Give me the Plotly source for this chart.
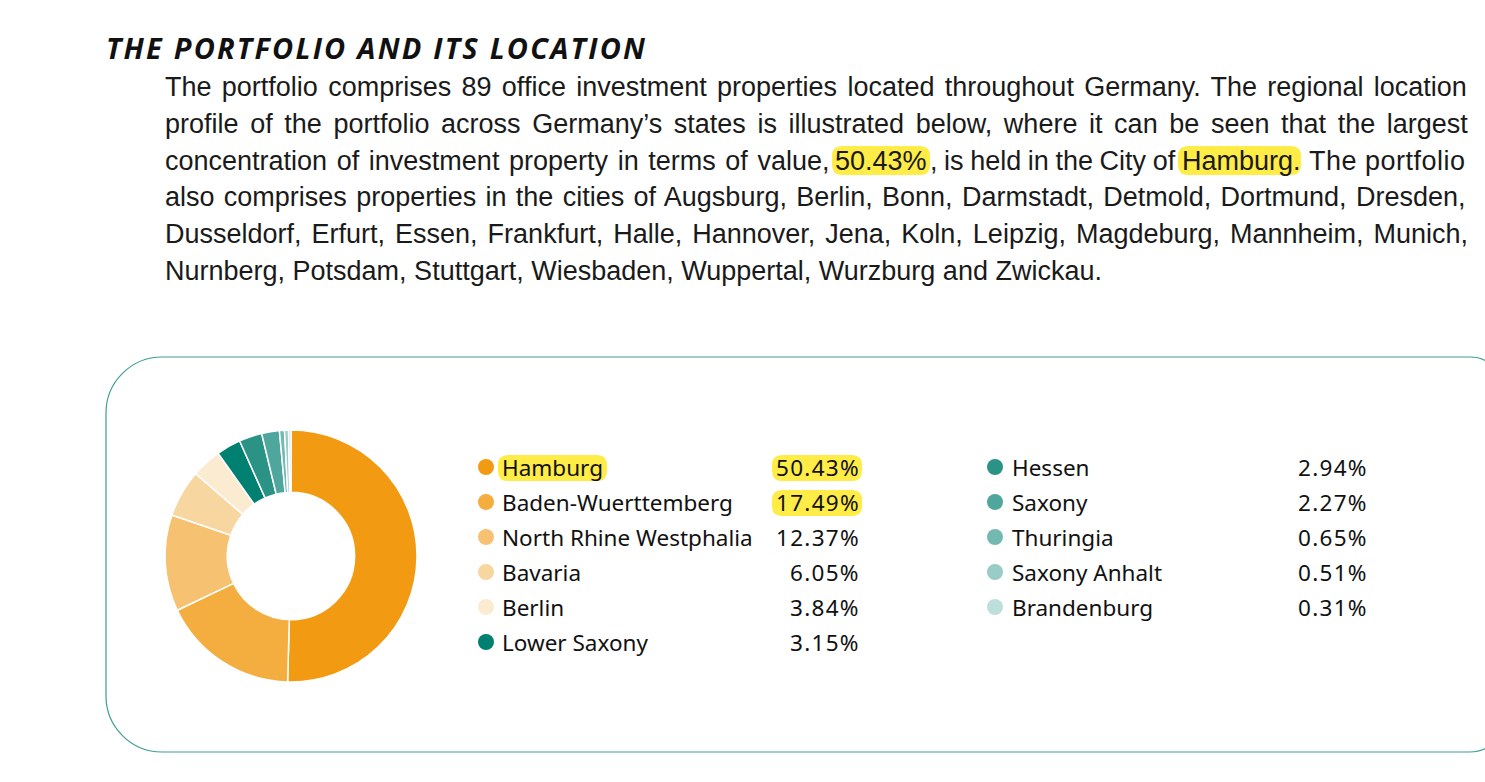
import plotly.graph_objects as go

W, H = 1485, 782

# ---------------- data ----------------
states = ["Hamburg", "Baden-Wuerttemberg", "North Rhine Westphalia", "Bavaria", "Berlin",
          "Lower Saxony", "Hessen", "Saxony", "Thuringia", "Saxony Anhalt", "Brandenburg"]
shares = [50.43, 17.49, 12.37, 6.05, 3.84, 3.15, 2.94, 2.27, 0.65, 0.51, 0.31]
colors = ["#F29A12", "#F4AD3F", "#F6C171", "#F8D6A0", "#FBEBD1",
          "#008070", "#2A9385", "#4EA69C", "#74B9B1", "#98CCC6", "#BCDFDB"]

title = "THE PORTFOLIO AND ITS LOCATION"
para_lines = [
    "The portfolio comprises 89 office investment properties located throughout Germany. The regional location",
    "profile of the portfolio across Germany\u2019s states is illustrated below, where it can be seen that the largest",
    None,
    "also comprises properties in the cities of Augsburg, Berlin, Bonn, Darmstadt, Detmold, Dortmund, Dresden,",
    "Dusseldorf, Erfurt, Essen, Frankfurt, Halle, Hannover, Jena, Koln, Leipzig, Magdeburg, Mannheim, Munich,",
    "Nurnberg, Potsdam, Stuttgart, Wiesbaden, Wuppertal, Wurzburg and Zwickau.",
]
line3_parts = ["concentration of investment property in terms of value,", "50.43%", ", is held in the City of",
               "Hamburg.", "The portfolio"]

# ---------------- styling ----------------
YELLOW = "#FFEC47"
TEAL = "#3E9E92"
BODY_FONT = "Liberation Sans, Arial, sans-serif"
LEG_FONT = "Noto Sans, DejaVu Sans, sans-serif"
BODY_SIZE = 27
line_y = [87, 124, 161, 197, 234, 271]
word_spacing = [2.8, 4.1, 0, 1.8, 2.5, 0]   # px, to justify the paragraph lines

fig = go.Figure()

fig.update_xaxes(range=[0, W], visible=False, domain=[0, 1], fixedrange=True)
fig.update_yaxes(range=[H, 0], visible=False, domain=[0, 1], fixedrange=True)

# donut
fig.add_trace(go.Pie(
    labels=states, values=shares, sort=False, direction="clockwise", rotation=0,
    hole=0.505, textinfo="none", showlegend=False,
    marker=dict(colors=colors, line=dict(color="white", width=1.5)),
    domain=dict(x=[165 / W, 417 / W], y=[1 - 682 / H, 1 - 430 / H]),
))

# legend dots
n1 = 6
dx, dy = [], []
for i, s in enumerate(states):
    col = 0 if i < n1 else 1
    row = i if i < n1 else i - n1
    dx.append(486 if col == 0 else 995)
    dy.append(467 + 35 * row)
fig.add_trace(go.Scatter(x=dx, y=dy, mode="markers", showlegend=False, hoverinfo="skip",
                         marker=dict(size=16, color=colors, line=dict(width=0))))

shapes = []


def rrect(x0, y0, x1, y1, r):
    return (f"M {x0+r},{y0} L {x1-r},{y0} Q {x1},{y0} {x1},{y0+r} L {x1},{y1-r} "
            f"Q {x1},{y1} {x1-r},{y1} L {x0+r},{y1} Q {x0},{y1} {x0},{y1-r} "
            f"L {x0},{y0+r} Q {x0},{y0} {x0+r},{y0} Z")


# rounded frame
x0, y0, x1, y1 = 106, 357, 1504, 752
rl, rr = 56, 34
frame = (f"M {x0+rl},{y0} L {x1-rr},{y0} C {x1-rr*0.45},{y0} {x1},{y0+rr*0.45} {x1},{y0+rr} "
         f"L {x1},{y1-rr} C {x1},{y1-rr*0.45} {x1-rr*0.45},{y1} {x1-rr},{y1} "
         f"L {x0+rl},{y1} C {x0+rl*0.45},{y1} {x0},{y1-rl*0.45} {x0},{y1-rl} "
         f"L {x0},{y0+rl} C {x0},{y0+rl*0.45} {x0+rl*0.45},{y0} {x0+rl},{y0} Z")
shapes.append(dict(type="path", path=frame, xref="x", yref="y",
                   line=dict(color=TEAL, width=1.2), layer="below"))

# highlight backgrounds
hl = [(832, 146, 930, 175), (1178, 146, 1301, 175),
      (498, 455, 607, 481), (772, 455, 862, 481), (772, 490, 862, 516)]
for (a, b, c, d) in hl:
    shapes.append(dict(type="path", path=rrect(a, b, c, d, 10), xref="x", yref="y",
                       fillcolor=YELLOW, line=dict(width=0), layer="below"))

ann = []
ann.append(dict(x=104, y=47, xref="x", yref="y",
                text=f'<span style="letter-spacing:2.2px"><b><i>{title}</i></b></span>', showarrow=False,
                xanchor="left", yanchor="middle",
                font=dict(family="Open Sans, Noto Sans, sans-serif", size=29, color="#111111")))


def body(x, y, t, anchor="left", ws=0.0, ls=0.0):
    style = ""
    if ws:
        style += f"word-spacing:{ws}px;"
    if ls:
        style += f"letter-spacing:{ls}px;"
    txt = f'<span style="{style}">{t}</span>' if style else t
    return dict(x=x, y=y, xref="x", yref="y", text=txt, showarrow=False,
                xanchor=anchor, yanchor="middle",
                font=dict(family=BODY_FONT, size=BODY_SIZE, color="#1a1a1a"))


for i, t in enumerate(para_lines):
    if t is None:
        continue
    ann.append(body(163, line_y[i], t, ws=word_spacing[i]))

# line 3 in segments
seg = [(163, "left", 2.1, 0), (881, "center", 0, 0), (928, "left", -0.9, 0),
       (1241, "center", 0, 0), (1468, "right", 0, 0.5)]
for (x, anc, ws, ls), t in zip(seg, line3_parts):
    ann.append(body(x, line_y[2], t, anchor=anc, ws=ws, ls=ls))

for i, (s, v) in enumerate(zip(states, shares)):
    col = 0 if i < n1 else 1
    row = i if i < n1 else i - n1
    ty = 467 + 35 * row
    tx = 500 if col == 0 else 1010
    vx = 862 if col == 0 else 1370
    ann.append(dict(x=tx, y=ty, xref="x", yref="y", text=s, showarrow=False,
                    xanchor="left", yanchor="middle",
                    font=dict(family=LEG_FONT, size=22.5, color="#111111")))
    ann.append(dict(x=vx, y=ty, xref="x", yref="y",
                    text=f'<span style="letter-spacing:1.3px">{v:.2f}%</span>', showarrow=False,
                    xanchor="right", yanchor="middle",
                    font=dict(family=LEG_FONT, size=22.5, color="#111111")))

fig.update_layout(width=W, height=H, margin=dict(l=0, r=0, t=0, b=0),
                  paper_bgcolor="white", plot_bgcolor="rgba(0,0,0,0)",
                  shapes=shapes, annotations=ann)

fig.write_html("out.html", config={"displayModeBar": False})
